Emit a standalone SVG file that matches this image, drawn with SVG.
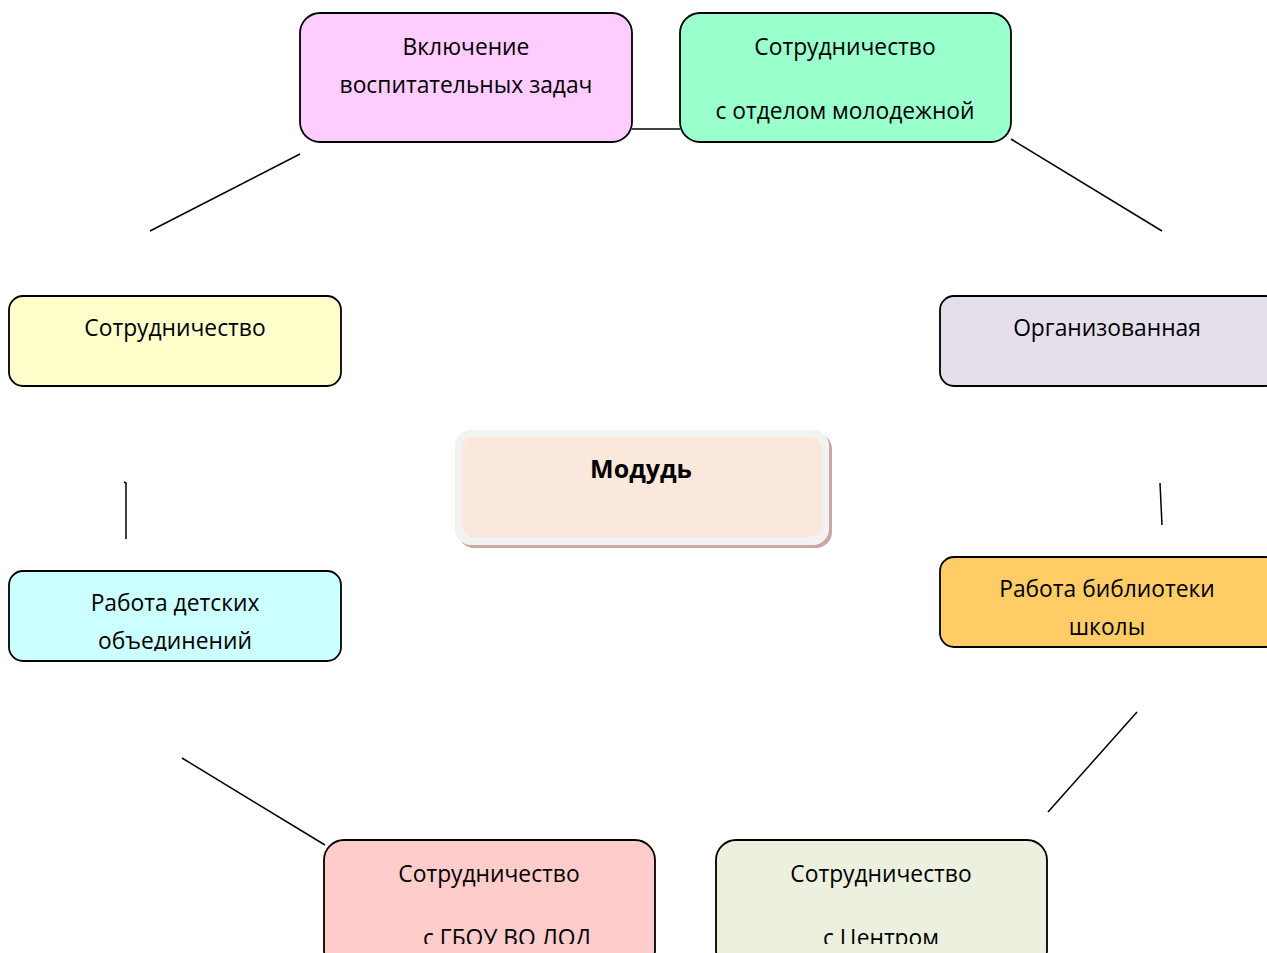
<svg xmlns="http://www.w3.org/2000/svg" width="1267" height="953" viewBox="0 0 1267 953">
<defs>
<style>
.box{stroke:#000;stroke-width:1.8}
.t{font-family:"Open Sans","Noto Sans","DejaVu Sans",sans-serif;font-size:22.8px;fill:#000;text-anchor:middle}
.b{font-weight:bold;font-size:25px}
.c{stroke:#000;stroke-width:1.5;fill:none}
</style>
<clipPath id="clipB"><rect x="0" y="0" width="1267" height="944"/></clipPath>
<clipPath id="clipC"><rect x="0" y="0" width="1267" height="651"/></clipPath>
</defs>
<rect width="1267" height="953" fill="#fff"/>
<g id="connectors">
<line class="c" x1="632" y1="129" x2="680" y2="129"/>
<line class="c" x1="300" y1="154" x2="150" y2="231"/>
<line class="c" x1="1011" y1="139" x2="1162" y2="231"/>
<polyline class="c" points="124,482 126,483 126,539"/>
<line class="c" x1="1160" y1="483" x2="1162" y2="525"/>
<line class="c" x1="182" y1="758" x2="325" y2="845"/>
<line class="c" x1="1137" y1="712" x2="1048" y2="812"/>
</g>
<g id="n1"><rect class="box" x="300" y="13" width="332" height="129" rx="20" fill="#FFCCFF"/>
<text class="t" x="466" y="55">Включение</text><text class="t" x="466" y="93">воспитательных задач</text></g>
<g id="n2"><rect class="box" x="680" y="13" width="331" height="129" rx="20" fill="#99FFCC"/>
<text class="t" x="845" y="55">Сотрудничество</text><text class="t" x="845" y="119">с отделом молодежной</text></g>
<g id="n3"><rect class="box" x="9" y="296" width="332" height="90" rx="14" fill="#FFFFCC"/>
<text class="t" x="175" y="336">Сотрудничество</text></g>
<g id="n4"><rect class="box" x="940" y="296" width="340" height="90" rx="14" fill="#E5DFEC"/>
<text class="t" x="1107" y="336">Организованная</text></g>
<g id="center">
<rect x="458" y="433" width="374" height="115" rx="16" fill="#C9A7A5"/>
<rect x="455" y="430" width="374" height="115" rx="16" fill="#F2F2F2"/>
<rect x="462" y="437" width="360" height="100" rx="12" fill="#FBE8DC"/>
<text class="t b" x="641" y="478">Модудь</text></g>
<g id="n5"><rect class="box" x="9" y="571" width="332" height="90" rx="14" fill="#CCFFFF"/>
<g clip-path="url(#clipC)"><text class="t" x="175" y="611">Работа детских</text><text class="t" x="175" y="649">объединений</text></g></g>
<g id="n6"><rect class="box" x="940" y="557" width="340" height="90" rx="14" fill="#FFCC66"/>
<text class="t" x="1107" y="597">Работа библиотеки</text><text class="t" x="1107" y="635">школы</text></g>
<g id="n7"><rect class="box" x="324" y="840" width="331" height="130" rx="20" fill="#FFCCCC"/>
<g clip-path="url(#clipB)"><text class="t" x="507" y="946">с ГБОУ ВО ЛОД</text><text class="t" x="489" y="882">Сотрудничество</text></g></g>
<g id="n8"><rect class="box" x="716" y="840" width="331" height="130" rx="20" fill="#EBF1DE"/>
<g clip-path="url(#clipB)"><text class="t" x="881" y="882">Сотрудничество</text><text class="t" x="881" y="946">с Центром</text></g></g>
</svg>
